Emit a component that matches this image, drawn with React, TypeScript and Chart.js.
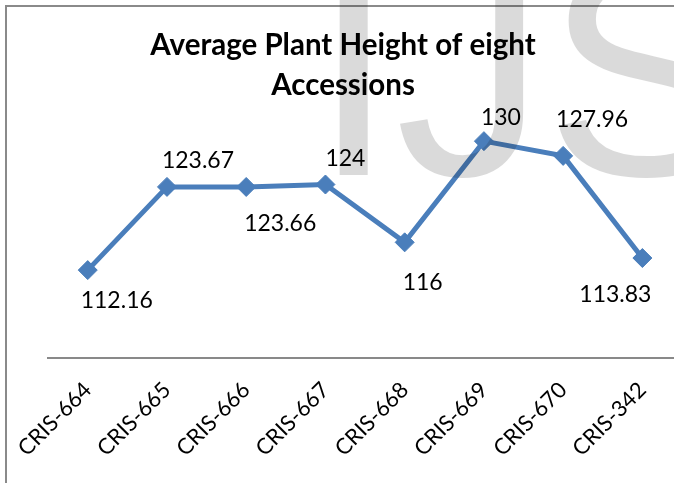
import React, { useEffect, useRef } from "react";
import { Chart, registerables } from "chart.js";

Chart.register(...registerables);

// ---- data ----
const categories = ["CRIS-664", "CRIS-665", "CRIS-666", "CRIS-667", "CRIS-668", "CRIS-669", "CRIS-670", "CRIS-342"];
const heights = [112.16, 123.67, 123.66, 124, 116, 130, 127.96, 113.83];
const titleLines = ["Average Plant Height of eight", "Accessions"];
const watermarkText = "IJSER";

// data-label offsets from each point (manually placed labels in the original)
const labelDx = [29, 31, 34, 20, 18, 17, 29, -27];
const labelDy = [30, -26, 37, -26, 40, -24, -36, 37];

const LINE_COLOR = "#4a7ebb";
const FONT = "Lato, 'Open Sans', sans-serif";

const decorPlugin = {
  id: "decor",
  beforeDraw(chart: any) {
    const ctx = chart.ctx;
    ctx.save();
    ctx.fillStyle = "#ffffff";
    ctx.fillRect(0, 0, chart.width, chart.height);
    ctx.strokeStyle = "#8a8a8a";
    ctx.lineWidth = 2;
    ctx.strokeRect(6, 6, 3000, 3000);
    ctx.restore();
  },
  afterDatasetsDraw(chart: any) {
    const ctx = chart.ctx;
    const meta = chart.getDatasetMeta(0);
    ctx.save();
    ctx.fillStyle = "#000000";
    ctx.font = `23px ${FONT}`;
    ctx.textAlign = "center";
    ctx.textBaseline = "middle";
    meta.data.forEach((pt: any, i: number) => {
      ctx.fillText(String(heights[i]), pt.x + labelDx[i], pt.y + labelDy[i]);
    });
    ctx.restore();
  },
  afterDraw(chart: any) {
    const ctx = chart.ctx;
    ctx.save();
    ctx.globalCompositeOperation = "multiply";
    ctx.fillStyle = "#dadada";
    ctx.font = "300px 'Liberation Sans', Arial, sans-serif";
    ctx.textAlign = "left";
    ctx.textBaseline = "alphabetic";
    ctx.fillText(watermarkText, 312, 175);
    ctx.restore();
  },
};

export default function App() {
  const ref = useRef<HTMLCanvasElement | null>(null);

  useEffect(() => {
    const prevMargin = document.body.style.margin;
    document.body.style.margin = "0";
    const canvas = ref.current;
    if (!canvas) return;
    const chart = new Chart(canvas, {
      type: "line",
      data: {
        labels: categories,
        datasets: [
          {
            data: heights,
            borderColor: LINE_COLOR,
            backgroundColor: LINE_COLOR,
            borderWidth: 5,
            tension: 0,
            pointStyle: "rectRot",
            pointRadius: 9.5,
            pointBackgroundColor: LINE_COLOR,
            pointBorderColor: LINE_COLOR,
            pointBorderWidth: 1,
            fill: false,
          },
        ],
      },
      options: {
        animation: false,
        responsive: false,
        devicePixelRatio: 1,
        layout: { padding: { left: 4, right: 18, top: 0, bottom: 0 } },
        plugins: {
          legend: { display: false },
          tooltip: { enabled: false },
          title: {
            display: true,
            text: titleLines,
            color: "#000000",
            font: { family: FONT, size: 29.5, weight: "bold", lineHeight: 40 / 29.5 },
            padding: { top: 25, bottom: 0 },
          },
        },
        scales: {
          x: {
            type: "category",
            offset: true,
            grid: { display: false, drawTicks: false },
            border: { display: true, color: "#898989", width: 2 },
            ticks: {
              minRotation: 45,
              maxRotation: 45,
              autoSkip: false,
              color: "#000000",
              font: { family: FONT, size: 22 },
              padding: 19,
            },
            afterFit: (s: any) => {
              s.height = 125;
            },
          },
          y: {
            min: 100,
            max: 135,
            display: true,
            grid: { display: false, drawTicks: false },
            border: { display: false },
            ticks: { display: false },
            afterFit: (s: any) => {
              s.width = 43.5;
            },
          },
        },
      },
      plugins: [decorPlugin],
    } as any);
    return () => {
      chart.destroy();
      document.body.style.margin = prevMargin;
    };
  }, []);

  return (
    <div style={{ position: "absolute", left: 0, top: 0, width: 674, height: 483, overflow: "hidden", background: "#fff" }}>
      <canvas ref={ref} width={700} height={483} style={{ display: "block", width: 700, height: 483 }} />
    </div>
  );
}
